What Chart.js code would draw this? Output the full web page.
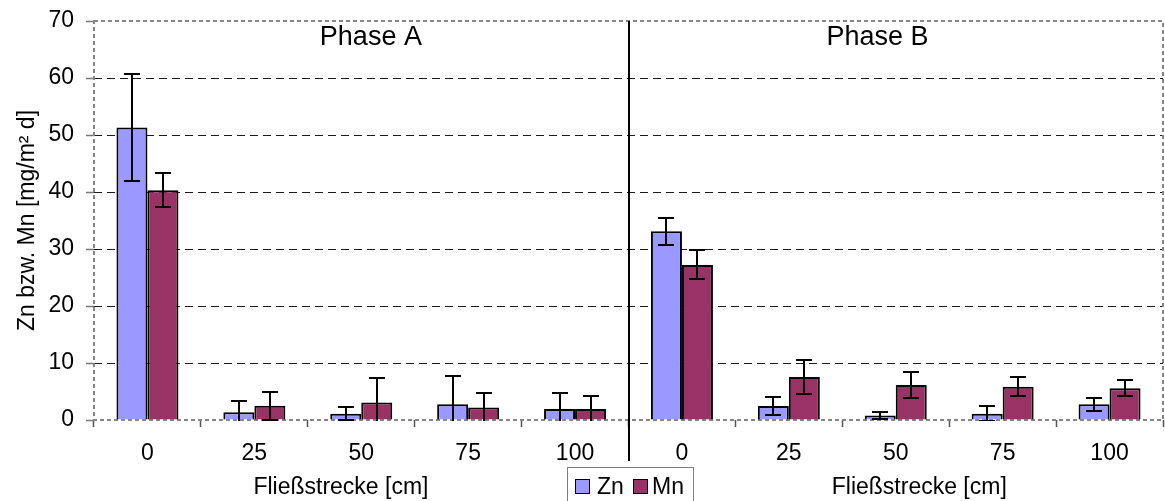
<!DOCTYPE html>
<html>
<head>
<meta charset="utf-8">
<script src="https://cdn.jsdelivr.net/npm/chart.js@4.4.1/dist/chart.umd.min.js"></script>
<style>
  body { margin: 0; background: #fff; }
  #wrap { width: 1165px; height: 501px; }
</style>
</head>
<body>
<div id="wrap"><canvas id="c" width="1165" height="501"></canvas></div>
<script>
// Werte
const categories = ['0', '25', '50', '75', '100', '0', '25', '50', '75', '100'];
const znValues = [51.3, 1.35, 1.1, 2.75, 1.95, 33.1, 2.45, 0.8, 1.1, 2.75];
const znErrors = [9.4, 2.0, 1.1, 5.0, 2.8, 2.4, 1.5, 0.6, 1.35, 1.1];
const mnValues = [40.3, 2.5, 3.05, 2.2, 1.95, 27.2, 7.55, 6.15, 5.85, 5.55];
const mnErrors = [3.0, 2.5, 4.3, 2.5, 2.3, 2.55, 3.05, 2.25, 1.7, 1.4];
const seriesNames = ['Zn', 'Mn'];
const phaseLabels = ['Phase A', 'Phase B'];
const xTitle = 'Fließstrecke [cm]';
const yTitle = 'Zn bzw. Mn [mg/m² d]';

const FONT = "'Liberation Sans', Arial, sans-serif";
const errorSets = [znErrors, mnErrors];

// Rahmen der Zeichenfläche (gestrichelt grau)
const plotFrame = {
    id: 'plotFrame',
    beforeDatasetsDraw(chart) {
        const { ctx, chartArea: a } = chart;
        ctx.save();
        ctx.strokeStyle = '#858585';
        ctx.lineWidth = 2;
        ctx.setLineDash([4, 3]);
        ctx.strokeRect(a.left, a.top, a.right - a.left, a.bottom - a.top);
        ctx.restore();
    }
};

// Fehlerbalken
const errorBars = {
    id: 'errorBars',
    afterDatasetsDraw(chart) {
        const { ctx, chartArea: a, scales: { y } } = chart;
        ctx.save();
        ctx.beginPath();
        ctx.rect(a.left, a.top - 2, a.right - a.left, a.bottom - a.top + 3);
        ctx.clip();
        ctx.strokeStyle = '#000';
        ctx.lineWidth = 2;
        chart.data.datasets.forEach((ds, i) => {
            const meta = chart.getDatasetMeta(i);
            meta.data.forEach((bar, j) => {
                const v = ds.data[j], e = errorSets[i][j];
                const yt = Math.round(y.getPixelForValue(v + e));
                const yb = Math.round(y.getPixelForValue(v - e));
                const x = Math.round(bar.x);
                ctx.beginPath();
                ctx.moveTo(x, yt); ctx.lineTo(x, yb);
                ctx.moveTo(x - 8, yt); ctx.lineTo(x + 8, yt);
                ctx.moveTo(x - 8, yb); ctx.lineTo(x + 8, yb);
                ctx.stroke();
            });
        });
        ctx.restore();
    }
};

// Trennlinie, Phasen-Beschriftung, Achsentitel, Legende
const decorations = {
    id: 'decorations',
    afterDraw(chart) {
        const { ctx, chartArea: a, scales: { x } } = chart;
        const w = a.right - a.left;
        ctx.save();
        // Trennlinie zwischen Phase A und B
        const sx = Math.round((x.getPixelForValue(4) + x.getPixelForValue(5)) / 2);
        ctx.strokeStyle = '#000';
        ctx.lineWidth = 2;
        ctx.beginPath();
        ctx.moveTo(sx, a.top);
        ctx.lineTo(sx, 461);
        ctx.stroke();

        ctx.fillStyle = '#000';
        ctx.textAlign = 'center';
        ctx.textBaseline = 'middle';
        ctx.font = '27px ' + FONT;
        ctx.fillText(phaseLabels[0], a.left + w * 0.259, 38);
        ctx.fillText(phaseLabels[1], a.left + w * 0.733, 38);

        ctx.font = '23px ' + FONT;
        ctx.fillText(xTitle, a.left + w * 0.231, 488);
        ctx.fillText(xTitle, a.left + w * 0.772, 488);

        // Legende
        const lx = 567, ly = 467, lw = 126, lh = 40;
        ctx.fillStyle = '#fff';
        ctx.fillRect(lx, ly, lw, lh);
        ctx.strokeStyle = '#808080';
        ctx.lineWidth = 1;
        ctx.strokeRect(lx + 0.5, ly + 0.5, lw, lh);
        const items = [[575, 597], [633, 652]];
        chart.data.datasets.forEach((ds, i) => {
            const [bx, tx] = items[i];
            ctx.fillStyle = ds.backgroundColor;
            ctx.fillRect(bx, 479, 15, 15);
            ctx.strokeStyle = '#000';
            ctx.strokeRect(bx + 0.5, 479.5, 14, 14);
            ctx.fillStyle = '#000';
            ctx.textAlign = 'left';
            ctx.fillText(ds.label, tx, 488);
        });
        ctx.restore();
    }
};

new Chart(document.getElementById('c'), {
    type: 'bar',
    data: {
        labels: categories,
        datasets: [
            {
                label: seriesNames[0],
                data: znValues,
                backgroundColor: '#9999FF',
                borderColor: '#000',
                borderWidth: 2,
                categoryPercentage: 0.58,
                barPercentage: 1.0
            },
            {
                label: seriesNames[1],
                data: mnValues,
                backgroundColor: '#993366',
                borderColor: '#000',
                borderWidth: 2,
                categoryPercentage: 0.58,
                barPercentage: 1.0
            }
        ]
    },
    options: {
        responsive: false,
        animation: false,
        layout: { padding: { top: 21, right: 2, left: 0, bottom: 0 } },
        plugins: {
            legend: { display: false },
            tooltip: { enabled: false }
        },
        scales: {
            x: {
                grid: {
                    drawOnChartArea: false,
                    drawTicks: true,
                    tickLength: 7,
                    tickColor: '#555',
                    tickWidth: 1.5
                },
                border: { display: false },
                ticks: {
                    color: '#000',
                    font: { family: FONT, size: 23 },
                    padding: 13,
                    maxRotation: 0,
                    autoSkip: false
                },
                afterFit(scale) {
                    scale.height = 81;
                    scale.paddingLeft = 0;
                    scale.paddingRight = 0;
                }
            },
            y: {
                min: 0,
                max: 70,
                ticks: {
                    stepSize: 10,
                    color: '#000',
                    font: { family: FONT, size: 23 },
                    padding: 12
                },
                grid: {
                    color: ctx => (ctx.tick && (ctx.tick.value === 0 || ctx.tick.value === 70)) ? 'rgba(0,0,0,0)' : '#1a1a1a',
                    lineWidth: 1,
                    tickLength: 8,
                    tickColor: '#777',
                    tickWidth: 1.5
                },
                border: { display: false, dash: [8, 5] },
                title: {
                    display: true,
                    text: yTitle,
                    color: '#000',
                    font: { family: FONT, size: 23 },
                    padding: { top: 14, bottom: 0 }
                },
                afterFit(scale) {
                    scale.width = 94;
                    scale.paddingTop = 0;
                    scale.paddingBottom = 0;
                }
            }
        }
    },
    plugins: [plotFrame, errorBars, decorations]
});
</script>
</body>
</html>
